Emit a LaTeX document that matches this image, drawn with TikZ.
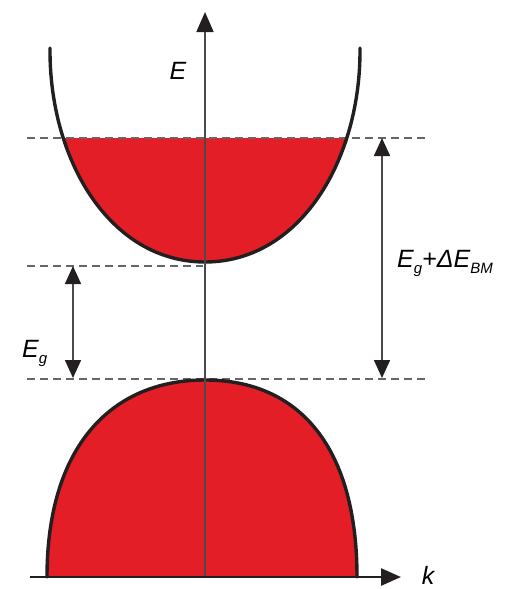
\documentclass[tikz,border=0pt]{standalone}
\usepackage{fontspec}
\setmainfont{Liberation Sans}
\usetikzlibrary{arrows.meta}
\definecolor{bandred}{HTML}{E31E26}
\definecolor{bandline}{HTML}{231F20}
\definecolor{axisgray}{HTML}{4A4A4A}
\definecolor{dashgray}{HTML}{666666}
\newcommand\lowtxt[1]{\raisebox{-0.45ex}{\fontsize{15}{15}\selectfont #1}}
\tikzset{
  bandcurve/.style={draw=bandline,line width=3.4pt,line cap=round},
  bandfill/.style={fill=bandred},
  axisline/.style={draw=axisgray,line width=1.8pt,-{Triangle[length=20pt,width=17pt,color=bandline]}},
  levelline/.style={draw=dashgray,line width=1.4pt,dash pattern=on 8pt off 5pt},
  gaparrow/.style={draw=axisgray,line width=1.6pt,{Triangle[length=18pt,width=16pt,color=bandline]}-{Triangle[length=18pt,width=16pt,color=bandline]}},
  lbl/.style={font=\fontsize{25}{25}\selectfont\itshape,inner sep=0pt}
}
\begin{document}
\begin{tikzpicture}[x=1pt,y=-1pt]
\useasboundingbox (0,0) rectangle (514,589);
% conduction band fill (below Fermi level line)
\begin{scope}
\clip (0,138) rectangle (514,589);
\fill[bandfill] (50,48) .. controls (49,160) and (110,262) .. (205,262)
   .. controls (300,262) and (361,160) .. (360,48) -- cycle;
\end{scope}
% valence band fill
\fill[bandfill] (47,577) .. controls (47,448) and (110,380) .. (205,380)
   .. controls (300,380) and (357,448) .. (357,577) -- cycle;
% dashed level lines
\coordinate (fl1) at (27,138); \coordinate (fl2) at (430,138);
\coordinate (cb1) at (27,266); \coordinate (cb2) at (203,266);
\coordinate (vb1) at (27,379); \coordinate (vb2) at (425,379);
\draw[levelline] (fl1) -- (fl2);
\draw[levelline] (cb1) -- (cb2);
\draw[levelline] (vb1) -- (vb2);
% band curves
\draw[bandcurve] (50,48) .. controls (49,160) and (110,262) .. (205,262)
   .. controls (300,262) and (361,160) .. (360,48);
\draw[bandcurve] (47,577) .. controls (47,448) and (110,380) .. (205,380)
   .. controls (300,380) and (357,448) .. (357,577);
% axes
\coordinate (o) at (205,577);
\coordinate (etop) at (205,12);
\coordinate (kstart) at (30,577);
\coordinate (kend) at (401,577);
\draw[axisline] (o) -- (etop);
\draw[axisline,draw=bandline,line width=2.6pt] (kstart) -- (kend);
% labels
\node[lbl] (E) at (178,71) {E};
\node[lbl] (k) at (428,575) {k};
\node[lbl,anchor=west] (Eg) at (22,353) {E\lowtxt{g}};
\node[lbl,anchor=west] (EgBM) at (397,263) {E\lowtxt{g}+ΔE\lowtxt{BM}};
% gap arrows
\coordinate (ga1) at (73,266); \coordinate (ga2) at (73,378);
\coordinate (ba1) at (382,138); \coordinate (ba2) at (382,378);
\draw[gaparrow] (ga1) -- (ga2);
\draw[gaparrow] (ba1) -- (ba2);
\end{tikzpicture}
\end{document}
